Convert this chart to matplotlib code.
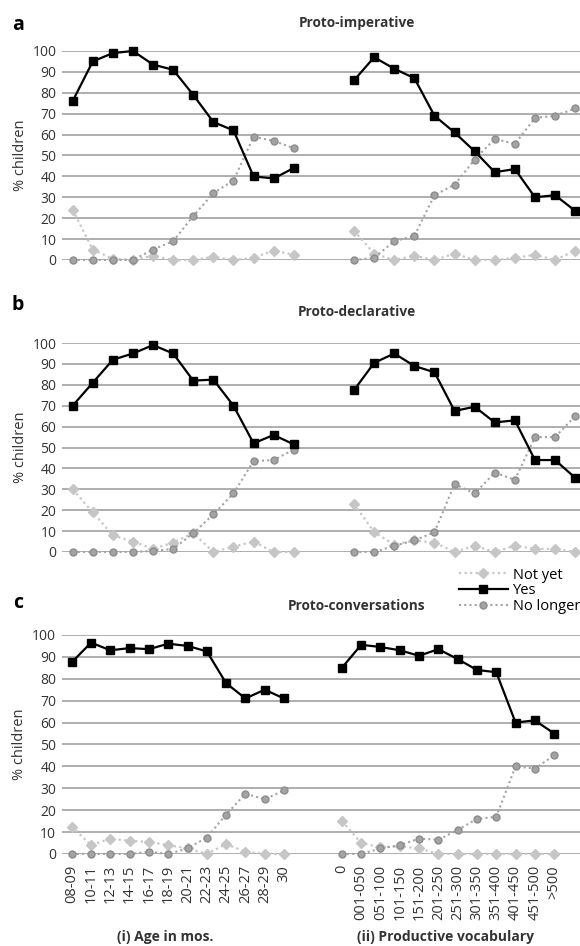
import matplotlib.pyplot as plt

plt.rcParams['font.family'] = ['Open Sans', 'DejaVu Sans']

# categorías del eje x
edades = ['08-09', '10-11', '12-13', '14-15', '16-17', '18-19', '20-21',
          '22-23', '24-25', '26-27', '28-29', '30']
vocab = ['0', '001-050', '051-100', '101-150', '151-200', '201-250',
         '251-300', '301-350', '351-400', '401-450', '451-500', '>500']

# a) Proto-imperative
a_edad_yes = [76, 95, 99, 100, 93.5, 91, 79, 66, 62, 40, 39, 44]
a_edad_no_longer = [0, 0, 0, 0, 5, 9, 21, 32, 38, 59, 57, 53.5]
a_edad_not_yet = [24, 5, 0.5, 0, 2, 0, 0, 1.5, 0, 1, 4.5, 2.5]
a_voc_yes = [86, 97, 91.5, 87, 69, 61, 52, 42, 43.5, 30, 31, 23.5]
a_voc_no_longer = [0, 1, 9, 11.5, 31, 36, 48, 58, 55.5, 68, 69, 72.5]
a_voc_not_yet = [14, 3, 0, 2, 0, 3, 0, 0, 1, 2.5, 0, 4.5]

# b) Proto-declarative
b_edad_yes = [70, 81, 92, 95, 99, 95, 82, 82.5, 70, 52, 56, 51.5]
b_edad_no_longer = [0, 0, 0, 0, 0.5, 1.5, 9, 18, 28, 43.5, 44, 49]
b_edad_not_yet = [30, 19, 8, 5, 1.5, 4.5, 9, 0, 2.5, 5, 0, 0]
b_voc_yes = [77.5, 90.5, 95, 89, 86, 67.5, 69.5, 62, 63, 44, 44, 35.5]
b_voc_no_longer = [0, 0, 3, 5.5, 9.5, 32.5, 28, 38, 34.5, 55, 55, 65]
b_voc_not_yet = [23, 9.5, 3.5, 5.5, 4.5, 0, 3, 0, 3, 1.5, 1.5, 0]

# c) Proto-conversations
c_edad_yes = [87.5, 96.5, 93, 94, 93.5, 96, 95, 92.5, 78, 71, 75, 71]
c_edad_no_longer = [0, 0, 0, 0, 1, 0, 2.5, 7.5, 18, 27.5, 25, 29]
c_edad_not_yet = [12.5, 4, 7, 6, 5.5, 4, 2.5, 0, 4.5, 1, 0, 0]
c_voc_yes = [85, 95.5, 94.5, 93, 90.5, 93.5, 89, 84, 83, 60, 61, 55]
c_voc_no_longer = [0, 0, 2.5, 4, 7, 6.5, 11, 16, 17, 40, 39, 45]
c_voc_not_yet = [15, 5, 3, 3.5, 2.5, 0, 0, 0, 0, 0, 0, 0]

# posiciones: edades 0..11, hueco de dos, vocabulario 14..25
x_edad = list(range(len(edades)))
x_voc = list(range(len(edades) + 2, len(edades) + 2 + len(vocab)))

estilo_yes = dict(color='black', lw=1.6, marker='s', ms=5.5, zorder=4)
estilo_not_yet = dict(color='#c6c6c6', lw=1.6, ls=(0, (1, 1.5)), marker='D',
                      ms=5.5, zorder=3)
estilo_no_longer = dict(color='#a3a3a3', lw=1.5, ls=(0, (1, 1.5)), marker='o',
                        ms=5, mec='#8c8c8c', zorder=3)

fig = plt.figure(figsize=(5.8, 9.46), dpi=100)


def panel(rect, xlim, datos):
    ax = fig.add_axes(rect)
    lineas = []
    for xs, ny, yes, nl in datos:
        l1, = ax.plot(xs, ny, clip_on=False, **estilo_not_yet)
        l2, = ax.plot(xs, yes, clip_on=False, **estilo_yes)
        l3, = ax.plot(xs, nl, clip_on=False, **estilo_no_longer)
        lineas = [l1, l2, l3]
    ax.set_ylim(0, 100)
    ax.set_xlim(*xlim)
    ax.set_yticks(range(0, 101, 10))
    ax.yaxis.grid(True, color='#a8a8a8', lw=1.3)
    ax.set_axisbelow(True)
    for s in ax.spines.values():
        s.set_visible(False)
    ax.tick_params(length=0, labelsize=10, colors='#333333', pad=4)
    ax.set_ylabel('% children', fontsize=10.5, color='#333333')
    ax.yaxis.set_label_coords(-0.066, 0.5)
    return ax, lineas


ax_a, _ = panel([62 / 580, 0.7252, 1 - 62 / 580, 0.2209], (-0.53, 25.24),
                [(x_edad, a_edad_not_yet, a_edad_yes, a_edad_no_longer),
                 (x_voc, a_voc_not_yet, a_voc_yes, a_voc_no_longer)])
ax_b, _ = panel([62 / 580, 0.4165, 1 - 62 / 580, 0.2209], (-0.53, 25.24),
                [(x_edad, b_edad_not_yet, b_edad_yes, b_edad_no_longer),
                 (x_voc, b_voc_not_yet, b_voc_yes, b_voc_no_longer)])
ax_c, lineas = panel([61.7 / 580, 0.0973, 1 - 61.7 / 580, 0.2315], (-0.52, 26.34),
                     [(x_edad, c_edad_not_yet, c_edad_yes, c_edad_no_longer),
                      (x_voc, c_voc_not_yet, c_voc_yes, c_voc_no_longer)])

ax_a.set_xticks([])
ax_b.set_xticks([])
ax_c.set_xticks(x_edad + x_voc)
ax_c.set_xticklabels(edades + vocab, rotation=90, fontsize=10.5)
ax_c.tick_params(axis='x', pad=8)

ax_c.legend(lineas, ['Not yet', 'Yes', 'No longer'], loc='upper right',
            bbox_to_anchor=(1.0, 0.4), bbox_transform=fig.transFigure,
            frameon=False, fontsize=10.5, handlelength=3.4, labelspacing=0.05,
            handletextpad=0.3, borderpad=0, borderaxespad=0)

# letras y títulos de cada panel
for letra, titulo, y_letra, y_tit in [('a', 'Proto-imperative', 25, 23),
                                      ('b', 'Proto-declarative', 305, 312),
                                      ('c', 'Proto-conversations', 603, 606)]:
    fig.text(18 / 580, 1 - y_letra / 946, letra, ha='center', va='center',
             fontsize=14, fontweight='bold')
    fig.text(357 / 580, 1 - y_tit / 946, titulo, ha='center', va='center',
             fontsize=9.8, fontweight='bold', color='#333333')

fig.text(165 / 580, 1 - 937 / 946, '(i) Age in mos.', ha='center', va='center',
         fontsize=10, fontweight='bold', color='#333333')
fig.text(357 / 580, 1 - 937 / 946, '(ii) Productive vocabulary', ha='left',
         va='center', fontsize=10, fontweight='bold', color='#333333')

fig.savefig('out.png', dpi=100)
